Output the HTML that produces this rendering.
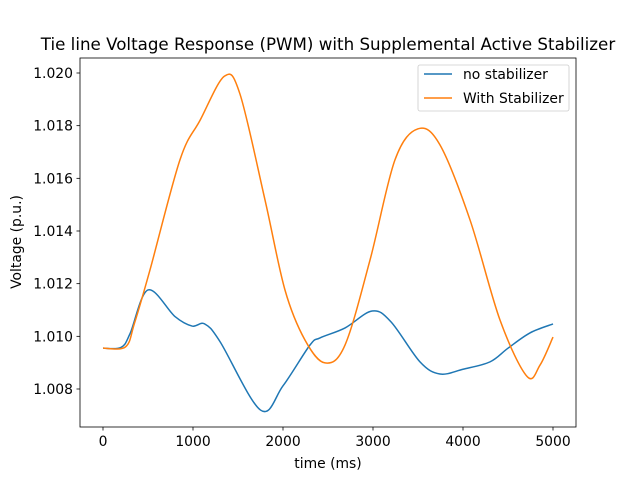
<!DOCTYPE html>
<html><head><meta charset="utf-8"><style>
body{margin:0;background:#fff}
svg text{font-family:"DejaVu Sans","Liberation Sans",sans-serif;fill:#000}
</style></head><body>
<svg id="chart" width="640" height="480"></svg>
<script>
const title = "Tie line Voltage Response (PWM) with Supplemental Active Stabilizer";
const xTicks = [0,1000,2000,3000,4000,5000];
const yTicks = [1.008,1.010,1.012,1.014,1.016,1.018,1.020];
const yTickLabels = ["1.008","1.010","1.012","1.014","1.016","1.018","1.020"];
const blueT = [0,200,300,500,800,990,1130,1300,1750,2000,2300,2411,2690,2990,3200,3522,3744,4000,4300,4500,4744,5000];
const blueV = [1.00955,1.00958,1.0101,1.01176,1.01075,1.01039,1.01047,1.0098,1.0072,1.00812,1.00967,1.00994,1.01032,1.01096,1.01055,1.00903,1.00857,1.00875,1.00903,1.00955,1.01013,1.01047];
const orT = [0,250,350,522,855,1078,1350,1522,1800,2022,2244,2467,2689,2967,3244,3500,3744,4078,4411,4711,4856,5000];
const orV = [1.00955,1.0096,1.0105,1.01252,1.0167,1.0182,1.01988,1.0192,1.01518,1.01176,1.00986,1.00899,1.00967,1.0129,1.0167,1.01788,1.01727,1.01442,1.01062,1.00848,1.00891,1.00997];
const NS="http://www.w3.org/2000/svg";
const svg=document.getElementById('chart');
const X=v=>103+v*0.09;
const Y=v=>73+(1.020-v)*26333;
function mk(t,a,p){const e=document.createElementNS(NS,t);for(const k in a)e.setAttribute(k,a[k]);(p||svg).appendChild(e);return e;}
const bg=mk('rect',{x:80,y:58,width:496,height:369,fill:'#fff'});


function path(ts,vs){const p=ts.map((t,i)=>[X(t),Y(vs[i])]);let d=`M${p[0][0]},${p[0][1]}`;
for(let i=0;i<p.length-1;i++){const p0=p[Math.max(0,i-1)],p1=p[i],p2=p[i+1],p3=p[Math.min(p.length-1,i+2)];
d+=` C${p1[0]+(p2[0]-p0[0])/6},${p1[1]+(p2[1]-p0[1])/6} ${p2[0]-(p3[0]-p1[0])/6},${p2[1]-(p3[1]-p1[1])/6} ${p2[0]},${p2[1]}`;}return d;}
const l1=mk('path',{d:path(blueT,blueV),fill:'none',stroke:'#1f77b4','stroke-width':1.5});


const l2=mk('path',{d:path(orT,orV),fill:'none',stroke:'#ff7f0e','stroke-width':1.5});


const fr=mk('rect',{x:80,y:58,width:496,height:369,fill:'none',stroke:'#000','stroke-width':0.8});


xTicks.forEach(v=>{mk('line',{x1:X(v),x2:X(v),y1:427,y2:430.5,stroke:'#000','stroke-width':0.8});
const t=mk('text',{x:X(v),y:446,'text-anchor':'middle','font-size':13.9});t.textContent=v;

});
yTicks.forEach((v,i)=>{mk('line',{x1:76.5,x2:80,y1:Y(v),y2:Y(v),stroke:'#000','stroke-width':0.8});
const t=mk('text',{x:73,y:Y(v)+5,'text-anchor':'end','font-size':13.9});t.textContent=yTickLabels[i];

});
const xt=mk('text',{x:328,y:468,'text-anchor':'middle','font-size':13.9});xt.textContent='time (ms)';


const yt=mk('text',{x:21,y:242,'text-anchor':'middle','font-size':13.9,transform:'rotate(-90 21 242)'});yt.textContent='Voltage (p.u.)';


const tt=mk('text',{x:328,y:50,'text-anchor':'middle','font-size':16.7});tt.textContent=title;


const lg=mk('g',{});


mk('rect',{x:418,y:65,width:151,height:46,rx:2,fill:'#fff',stroke:'#ccc','stroke-width':0.8},lg);
[['no stabilizer','#1f77b4',74],['With Stabilizer','#ff7f0e',98]].forEach(([n,c,y])=>{
const g=mk('g',{},lg);


mk('line',{x1:424,x2:452,y1:y,y2:y,stroke:c,'stroke-width':1.5},g);
const t=mk('text',{x:463,y:y+5,'font-size':13.9},g);t.textContent=n;});
</script>
</body></html>
